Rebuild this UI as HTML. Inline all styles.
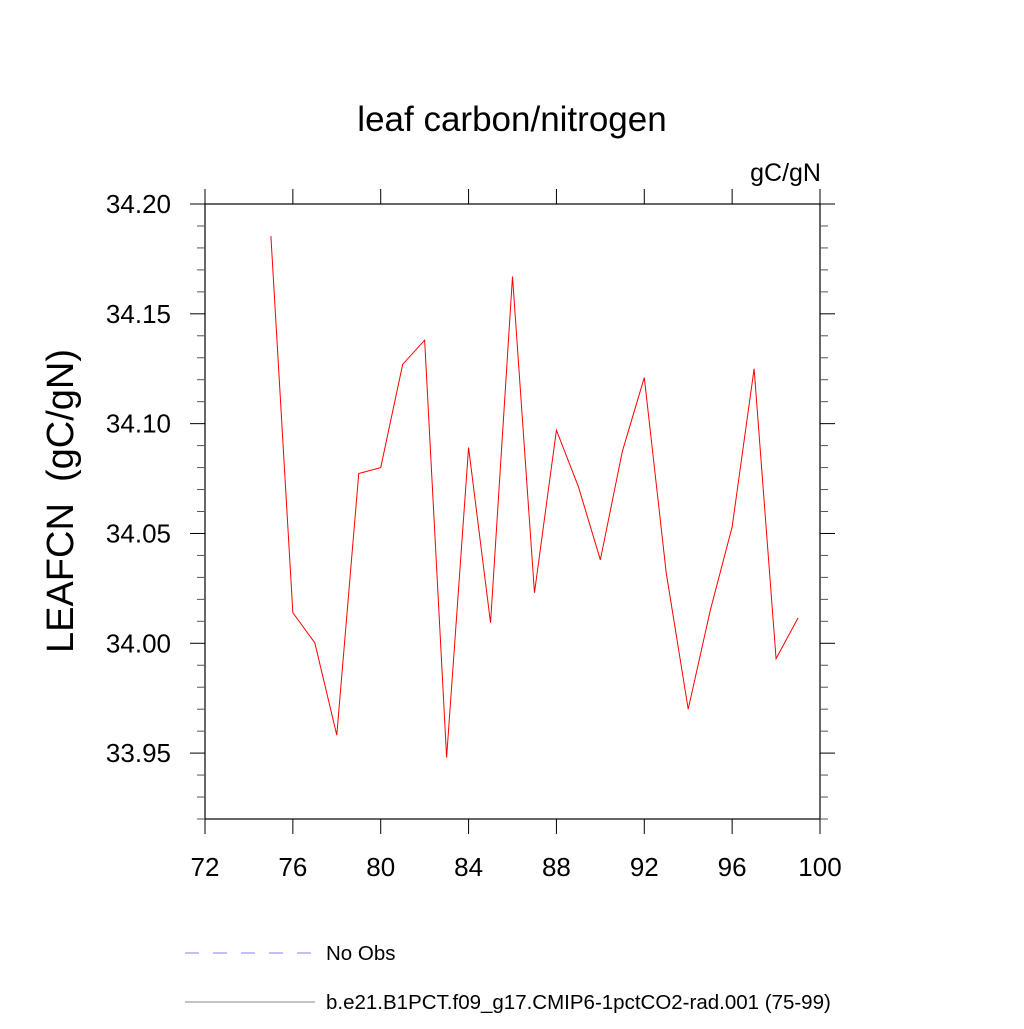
<!DOCTYPE html>
<html><head><meta charset="utf-8"><style>body{margin:0;background:#fff}svg text{font-family:"Liberation Sans",sans-serif}</style></head>
<body>
<svg id="chart" width="1024" height="1024" xmlns="http://www.w3.org/2000/svg">
<text x="512" y="131" font-size="35" text-anchor="middle">leaf carbon/nitrogen</text>
<text x="821" y="181" font-size="25" text-anchor="end">gC/gN</text>
<text transform="translate(73,501) rotate(-90)" font-size="38" text-anchor="middle">LEAFCN&#160;&#160;(gC/gN)</text>
<g id="axes"></g>
<g id="series"></g>
<g>
<line x1="185" y1="953" x2="315" y2="953" stroke="#8080ff" stroke-width="1" stroke-dasharray="14,14"/>
<text x="326" y="960" font-size="20.5">No Obs</text>
<line x1="185" y1="1002" x2="315" y2="1002" stroke="#888" stroke-width="1"/>
<text x="326" y="1009" font-size="20.5">b.e21.B1PCT.f09_g17.CMIP6-1pctCO2-rad.001 (75-99)</text>
</g>
</svg>
<script>
const years=[75,76,77,78,79,80,81,82,83,84,85,86,87,88,89,90,91,92,93,94,95,96,97,98,99];
const leafcn=[34.1854,34.0139,34.0002,33.9582,34.0773,34.0800,34.1270,34.1380,33.9480,34.0891,34.0093,34.1670,34.0230,34.0970,34.0713,34.0380,34.0873,34.1210,34.0320,33.9700,34.0148,34.0530,34.1250,33.9930,34.0115];
const xTicks=[72,76,80,84,88,92,96,100];
const yTicks=["33.95","34.00","34.05","34.10","34.15","34.20"];
const X0=205,X1=820,Y0=819,Y1=204,xmin=72,xmax=100,ymin=33.92,ymax=34.20;
const sx=v=>X0+(v-xmin)/(xmax-xmin)*(X1-X0);
const sy=v=>Y0-(v-ymin)/(ymax-ymin)*(Y0-Y1);
const NS="http://www.w3.org/2000/svg";
const ax=document.getElementById('axes'),se=document.getElementById('series');
function mk(t,a,p){const e=document.createElementNS(NS,t);for(const k in a)e.setAttribute(k,a[k]);p.appendChild(e);return e;}
const fr=mk('rect',{x:X0,y:Y1,width:X1-X0,height:Y0-Y1,fill:'none',stroke:'#000','stroke-width':1.2},ax);


xTicks.forEach(v=>{const x=sx(v);
 const b=mk('line',{x1:x,y1:Y0,x2:x,y2:Y0+15,stroke:'#000'},ax);
 
 
 const t=mk('line',{x1:x,y1:Y1,x2:x,y2:Y1-15,stroke:'#000'},ax);
 
 
 const l=mk('text',{x:x,y:Y0+57,'font-size':26,'text-anchor':'middle'},ax);l.textContent=v;
 
 
});
for(let i=0;i<=28;i++){const v=ymin+i*0.01;const y=sy(v);const r=Math.round(v*100)%5;const major=r===0;
 const len=major?15:8;
 const l1=mk('line',{x1:X0-len,y1:y,x2:X0,y2:y,stroke:major?'#000':'#555'},ax);
 
 
 const l2=mk('line',{x1:X1,y1:y,x2:X1+len,y2:y,stroke:major?'#000':'#555'},ax);
 
 
}
yTicks.forEach(s=>{const y=sy(parseFloat(s));
 const l=mk('text',{x:X0-34,y:y+9,'font-size':26,'text-anchor':'end'},ax);l.textContent=s;
 
 
});
const pts=years.map((y,i)=>sx(y)+','+sy(leafcn[i])).join(' ');
const pl=mk('polyline',{points:pts,fill:'none',stroke:'#ff0000','stroke-width':1},se);


</script>
</body></html>
